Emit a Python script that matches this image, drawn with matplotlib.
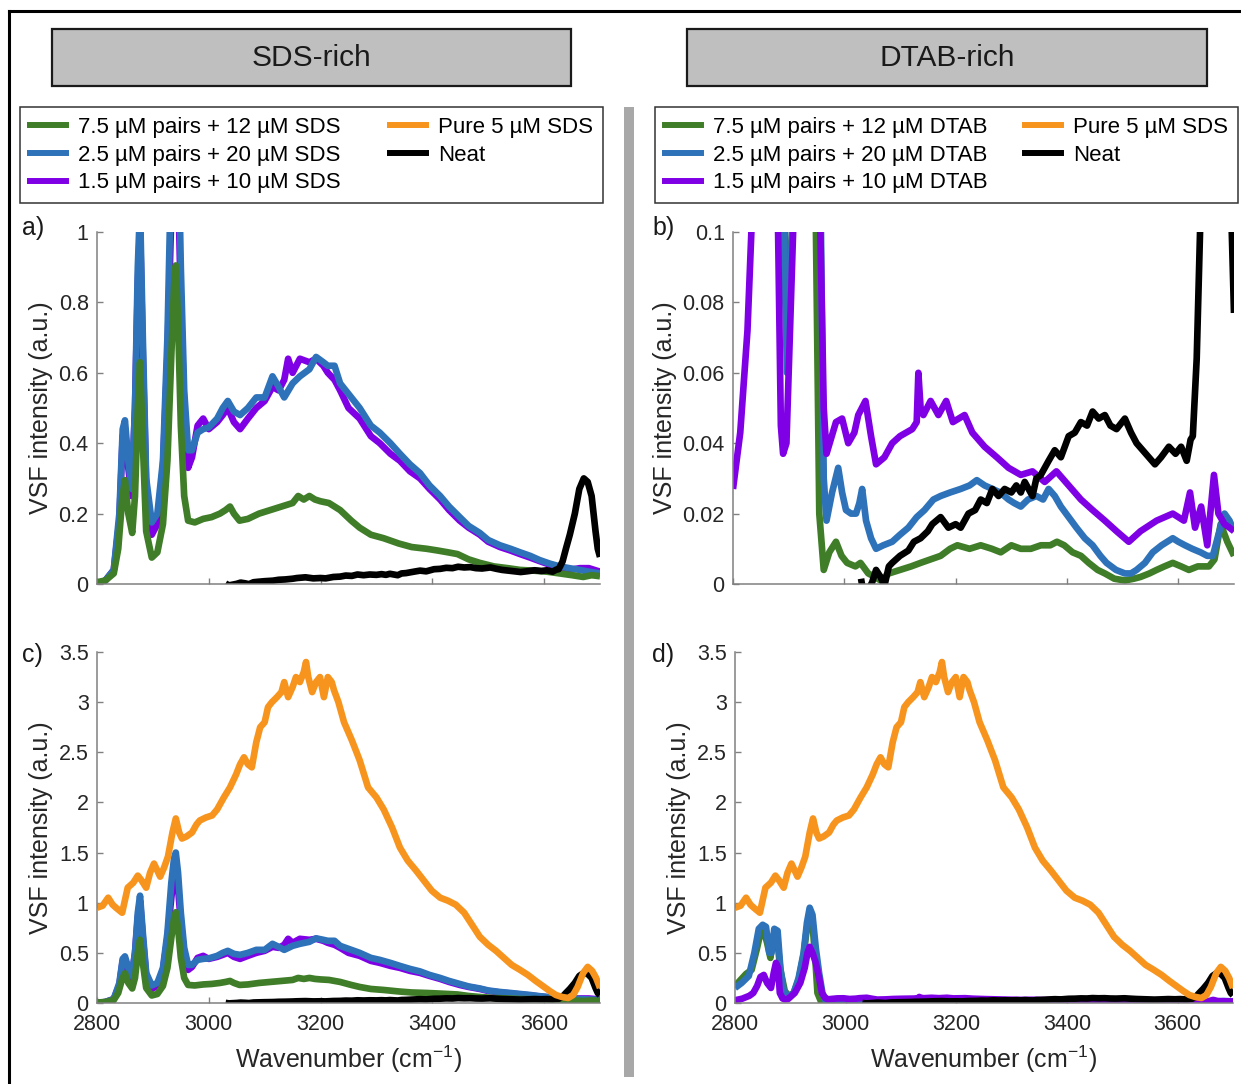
"""Espectros VSF: series ricas en SDS (izquierda) y en DTAB (derecha)."""

import matplotlib

matplotlib.use("Agg")
import matplotlib.pyplot as plt  # noqa: E402
from matplotlib.lines import Line2D  # noqa: E402
from matplotlib.patches import Rectangle  # noqa: E402
from matplotlib.ticker import FuncFormatter, MultipleLocator  # noqa: E402

plt.rcParams["font.family"] = ["Liberation Sans", "DejaVu Sans"]
plt.rcParams["mathtext.fontset"] = "custom"
plt.rcParams["mathtext.rm"] = "Liberation Sans"
plt.rcParams["mathtext.it"] = "Liberation Sans:italic"

ANCHO, ALTO = 1241, 1084
VERDE = "#3f7d28"
AZUL = "#2e72b9"
MORADO = "#8000e6"
NARANJA = "#f7941e"
NEGRO = "#000000"

# --- Serie ricas en SDS (paneles a y c) ---
sds_verde_w = [2800, 2815, 2830, 2838, 2845, 2850, 2856, 2863, 2868, 2873, 2877, 2882,
               2888, 2898, 2908, 2918, 2926, 2933, 2938, 2941, 2945, 2950, 2956, 2963,
               2975, 2990, 3005, 3020, 3030, 3038, 3045, 3055, 3070, 3090, 3110, 3130,
               3150, 3160, 3170, 3180, 3190, 3200, 3215, 3235, 3255, 3270, 3290, 3313,
               3340, 3363, 3390, 3410, 3428, 3445, 3465, 3485, 3510, 3535, 3557, 3580,
               3605, 3628, 3650, 3670, 3685, 3700]
sds_verde_y = [0.005, 0.01, 0.03, 0.1, 0.24, 0.295, 0.2, 0.145, 0.25, 0.5, 0.63, 0.4,
               0.15, 0.075, 0.09, 0.17, 0.35, 0.65, 0.85, 0.905, 0.75, 0.45, 0.25, 0.18,
               0.175, 0.185, 0.19, 0.2, 0.21, 0.22, 0.2, 0.18, 0.185, 0.2, 0.21, 0.22,
               0.23, 0.25, 0.24, 0.25, 0.24, 0.235, 0.23, 0.21, 0.18, 0.16, 0.14, 0.13,
               0.115, 0.105, 0.1, 0.095, 0.09, 0.085, 0.07, 0.06, 0.05, 0.045, 0.04, 0.038,
               0.035, 0.03, 0.025, 0.02, 0.025, 0.022]

sds_azul_w = [2800, 2815, 2830, 2840, 2846, 2850, 2856, 2862, 2868, 2873, 2877, 2882,
              2888, 2898, 2908, 2918, 2926, 2933, 2938, 2941, 2945, 2950, 2956, 2963,
              2970, 2980, 2990, 3000, 3015, 3025, 3034, 3045, 3056, 3070, 3085, 3100,
              3114, 3125, 3135, 3150, 3163, 3180, 3192, 3205, 3213, 3225, 3235, 3250,
              3270, 3290, 3306, 3325, 3342, 3360, 3378, 3395, 3414, 3430, 3449, 3465,
              3485, 3500, 3521, 3540, 3557, 3575, 3592, 3610, 3628, 3645, 3664, 3680, 3700]
sds_azul_y = [0.0, 0.01, 0.04, 0.2, 0.44, 0.465, 0.35, 0.27, 0.5, 0.9, 1.07, 0.7,
              0.3, 0.175, 0.2, 0.35, 0.7, 1.2, 1.45, 1.5, 1.3, 0.9, 0.55, 0.38,
              0.38, 0.43, 0.44, 0.445, 0.47, 0.5, 0.52, 0.49, 0.48, 0.5, 0.53, 0.53,
              0.59, 0.56, 0.53, 0.57, 0.59, 0.61, 0.645, 0.63, 0.62, 0.62, 0.57, 0.54,
              0.5, 0.45, 0.43, 0.4, 0.37, 0.34, 0.315, 0.28, 0.25, 0.22, 0.19, 0.165,
              0.145, 0.125, 0.11, 0.1, 0.09, 0.08, 0.068, 0.058, 0.05, 0.045, 0.04, 0.035, 0.03]

sds_morado_w = [2800, 2815, 2830, 2840, 2846, 2850, 2856, 2862, 2868, 2873, 2877, 2882,
                2888, 2898, 2908, 2918, 2926, 2933, 2938, 2941, 2945, 2950, 2956, 2963,
                2970, 2980, 2990, 3000, 3015, 3025, 3034, 3045, 3056, 3070, 3085, 3100,
                3114, 3125, 3135, 3142, 3150, 3163, 3180, 3192, 3205, 3213, 3225, 3235,
                3250, 3270, 3290, 3306, 3325, 3342, 3360, 3378, 3395, 3414, 3430, 3449,
                3465, 3485, 3500, 3521, 3540, 3557, 3575, 3592, 3610, 3628, 3645, 3664,
                3680, 3700]
sds_morado_y = [0.0, 0.01, 0.04, 0.18, 0.42, 0.44, 0.33, 0.25, 0.5, 0.85, 1.02, 0.65,
                0.28, 0.14, 0.17, 0.33, 0.65, 1.05, 1.28, 1.32, 1.15, 0.8, 0.5, 0.33,
                0.36, 0.45, 0.47, 0.44, 0.46, 0.48, 0.5, 0.46, 0.44, 0.47, 0.5, 0.52,
                0.56, 0.55, 0.58, 0.64, 0.6, 0.64, 0.63, 0.64, 0.62, 0.6, 0.58, 0.55,
                0.5, 0.47, 0.42, 0.4, 0.37, 0.35, 0.32, 0.3, 0.27, 0.24, 0.21, 0.18,
                0.16, 0.14, 0.12, 0.105, 0.095, 0.085, 0.075, 0.065, 0.055, 0.048, 0.04, 0.045,
                0.045, 0.035]

# --- Agua pura (Neat), comun a los cuatro paneles ---
neat_w = [3030, 3036, 3042, 3050, 3057, 3065, 3072, 3080, 3086, 3100, 3115, 3125,
          3137, 3150, 3158, 3173, 3187, 3200, 3209, 3223, 3235, 3245, 3256, 3266,
          3277, 3288, 3300, 3309, 3317, 3324, 3331, 3338, 3345, 3353, 3367, 3378,
          3389, 3403, 3414, 3425, 3436, 3446, 3457, 3468, 3478, 3489, 3504, 3515,
          3525, 3536, 3547, 3558, 3569, 3583, 3595, 3605, 3615, 3622, 3626, 3633,
          3639, 3646, 3655, 3663, 3671, 3678, 3685, 3692, 3696, 3700]
neat_y = [0.0015, -0.004, -0.002, 0.0005, 0.004, 0.002, -0.0005, 0.005, 0.006, 0.008, 0.0095, 0.012,
          0.013, 0.015, 0.017, 0.019, 0.016, 0.017, 0.016, 0.02, 0.021, 0.024, 0.023, 0.027,
          0.025, 0.027, 0.026, 0.028, 0.026, 0.029, 0.027, 0.025, 0.03, 0.031, 0.035, 0.038,
          0.036, 0.042, 0.043, 0.046, 0.045, 0.049, 0.047, 0.048, 0.045, 0.044, 0.047, 0.043,
          0.04, 0.038, 0.036, 0.034, 0.036, 0.039, 0.037, 0.039, 0.035, 0.041, 0.042, 0.064,
          0.1, 0.14, 0.2, 0.27, 0.3, 0.29, 0.25, 0.15, 0.1, 0.077]

# --- SDS puro 5 uM (paneles c y d) ---
puro_w = [2800, 2810, 2820, 2828, 2834, 2845, 2855, 2865, 2873, 2880, 2888, 2895,
          2902, 2913, 2920, 2927, 2935, 2941, 2947, 2952, 2960, 2970, 2978, 2984,
          2995, 3006, 3015, 3027, 3038, 3049, 3056, 3063, 3070, 3077, 3085, 3092,
          3100, 3106, 3113, 3122, 3130, 3135, 3142, 3150, 3156, 3163, 3170, 3174,
          3178, 3185, 3192, 3199, 3206, 3213, 3220, 3224, 3232, 3242, 3256, 3270,
          3285, 3300, 3313, 3328, 3342, 3356, 3371, 3385, 3399, 3414, 3428, 3442,
          3457, 3471, 3485, 3500, 3514, 3528, 3542, 3557, 3571, 3585, 3600, 3610,
          3621, 3632, 3643, 3652, 3660, 3670, 3678, 3686, 3693, 3700]
puro_y = [0.95, 0.97, 1.05, 0.98, 0.95, 0.9, 1.15, 1.2, 1.27, 1.22, 1.15, 1.3,
          1.39, 1.26, 1.35, 1.46, 1.7, 1.84, 1.7, 1.64, 1.66, 1.7, 1.78, 1.82,
          1.85, 1.87, 1.93, 2.05, 2.15, 2.28, 2.38, 2.45, 2.38, 2.35, 2.6, 2.75,
          2.8, 2.95, 3.0, 3.05, 3.1, 3.2, 3.05, 3.15, 3.25, 3.2, 3.3, 3.4,
          3.25, 3.1, 3.2, 3.25, 3.05, 3.25, 3.2, 3.12, 3.0, 2.8, 2.62, 2.42,
          2.15, 2.05, 1.93, 1.75, 1.55, 1.42, 1.32, 1.22, 1.12, 1.05, 1.02, 0.98,
          0.9, 0.78, 0.66, 0.58, 0.52, 0.45, 0.38, 0.33, 0.28, 0.22, 0.16, 0.12,
          0.08, 0.06, 0.05, 0.08, 0.16, 0.3, 0.36, 0.32, 0.25, 0.15]

# --- Serie ricas en DTAB (paneles b y d) ---
dtab_verde_w = [2800, 2810, 2820, 2830, 2840, 2846, 2852, 2858, 2864, 2870, 2876, 2882,
                2890, 2897, 2906, 2915, 2924, 2930, 2936, 2941, 2945, 2949, 2955, 2963,
                2973, 2985, 2995, 3005, 3020, 3029, 3043, 3055, 3065, 3080, 3100, 3120,
                3137, 3155, 3173, 3190, 3203, 3225, 3245, 3265, 3281, 3300, 3317, 3335,
                3353, 3370, 3382, 3395, 3410, 3425, 3439, 3455, 3468, 3485, 3504, 3520,
                3532, 3548, 3561, 3575, 3590, 3605, 3619, 3635, 3655, 3665, 3676, 3688, 3700]
dtab_verde_y = [0.17, 0.23, 0.29, 0.33, 0.55, 0.7, 0.72, 0.6, 0.45, 0.68, 0.65, 0.33,
                0.12, 0.07, 0.1, 0.23, 0.48, 0.75, 0.85, 0.72, 0.45, 0.1, 0.02, 0.004,
                0.009, 0.012, 0.008, 0.006, 0.005, 0.006, 0.003, 0.002, 0.001, 0.003, 0.004, 0.005,
                0.006, 0.007, 0.008, 0.01, 0.011, 0.01, 0.011, 0.01, 0.009, 0.011, 0.01, 0.01,
                0.011, 0.011, 0.012, 0.011, 0.009, 0.008, 0.006, 0.004, 0.003, 0.0015, 0.001, 0.0015,
                0.002, 0.003, 0.004, 0.005, 0.006, 0.005, 0.004, 0.005, 0.005, 0.007, 0.017, 0.012, 0.008]

dtab_azul_w = [2800, 2812, 2825, 2835, 2843, 2850, 2856, 2862, 2866, 2871, 2877, 2882,
               2888, 2897, 2906, 2915, 2924, 2930, 2935, 2940, 2946, 2952, 2958, 2963,
               2968, 2978, 2989, 2996, 3003, 3012, 3021, 3027, 3032, 3039, 3048, 3057,
               3070, 3086, 3100, 3115, 3130, 3144, 3160, 3173, 3190, 3209, 3225, 3238,
               3252, 3266, 3280, 3295, 3305, 3317, 3330, 3345, 3357, 3367, 3378, 3389,
               3403, 3417, 3432, 3446, 3460, 3471, 3488, 3504, 3515, 3525, 3540, 3554,
               3570, 3590, 3600, 3612, 3625, 3640, 3652, 3662, 3672, 3683, 3692, 3700]
dtab_azul_y = [0.15, 0.2, 0.27, 0.5, 0.74, 0.78, 0.76, 0.5, 0.5, 0.74, 0.72, 0.35,
               0.12, 0.06, 0.1, 0.25, 0.5, 0.8, 0.95, 0.88, 0.55, 0.3, 0.1, 0.03,
               0.018, 0.026, 0.033, 0.026, 0.021, 0.02, 0.02, 0.023, 0.027, 0.018, 0.013, 0.01,
               0.011, 0.012, 0.014, 0.016, 0.019, 0.021, 0.024, 0.025, 0.026, 0.027, 0.028, 0.0295,
               0.028, 0.027, 0.026, 0.024, 0.023, 0.022, 0.024, 0.025, 0.024, 0.027, 0.025, 0.022,
               0.019, 0.016, 0.013, 0.011, 0.008, 0.006, 0.004, 0.003, 0.003, 0.004, 0.006, 0.009,
               0.011, 0.013, 0.012, 0.011, 0.01, 0.009, 0.008, 0.008, 0.014, 0.02, 0.018, 0.015]

dtab_morado_w = [2800, 2813, 2826, 2833, 2840, 2846, 2852, 2858, 2865, 2870, 2874, 2878,
                 2881, 2886, 2890, 2896, 2902, 2908, 2918, 2926, 2931, 2935, 2940, 2946,
                 2952, 2957, 2963, 2968, 2985, 2996, 3007, 3018, 3025, 3038, 3048, 3057,
                 3072, 3086, 3100, 3122, 3130, 3133, 3137, 3142, 3155, 3169, 3183, 3195,
                 3216, 3230, 3252, 3274, 3295, 3317, 3338, 3360, 3381, 3403, 3425, 3446,
                 3468, 3489, 3511, 3532, 3561, 3590, 3610, 3621, 3630, 3641, 3652, 3664,
                 3672, 3683, 3692, 3700]
dtab_morado_y = [0.027, 0.043, 0.072, 0.1, 0.17, 0.26, 0.28, 0.2, 0.15, 0.3, 0.4, 0.35,
                 0.1, 0.045, 0.037, 0.04, 0.07, 0.1, 0.2, 0.35, 0.5, 0.56, 0.5, 0.4,
                 0.25, 0.1, 0.05, 0.037, 0.046, 0.047, 0.04, 0.043, 0.048, 0.052, 0.042, 0.034,
                 0.036, 0.04, 0.042, 0.044, 0.046, 0.06, 0.05, 0.048, 0.052, 0.048, 0.052, 0.046,
                 0.048, 0.043, 0.039, 0.036, 0.033, 0.031, 0.032, 0.029, 0.032, 0.028, 0.024, 0.021,
                 0.018, 0.015, 0.012, 0.015, 0.018, 0.02, 0.018, 0.026, 0.016, 0.022, 0.011, 0.031,
                 0.02, 0.017, 0.016, 0.015]

ETIQUETAS_SDS = ["7.5 µM pairs + 12 µM SDS", "2.5 µM pairs + 20 µM SDS",
                 "1.5 µM pairs + 10 µM SDS", "Pure 5 µM SDS", "Neat"]
ETIQUETAS_DTAB = ["7.5 µM pairs + 12 µM DTAB", "2.5 µM pairs + 20 µM DTAB",
                  "1.5 µM pairs + 10 µM DTAB", "Pure 5 µM SDS", "Neat"]
COLORES_LEYENDA = [VERDE, AZUL, MORADO, NARANJA, NEGRO]


def caja(izq, der, arriba, abajo):
    """Convierte un rectangulo en pixeles a coordenadas de figura."""
    return [izq / ANCHO, 1 - abajo / ALTO, (der - izq) / ANCHO, (abajo - arriba) / ALTO]


def estilo_ejes(ax, ymax, paso, con_etiquetas_x):
    ax.set_xlim(2800, 3700)
    ax.set_ylim(0, ymax)
    ax.xaxis.set_major_locator(MultipleLocator(200))
    ax.yaxis.set_major_locator(MultipleLocator(paso))
    ax.yaxis.set_major_formatter(FuncFormatter(lambda v, _: f"{v:g}"))
    for lado in ("top", "right"):
        ax.spines[lado].set_visible(False)
    for lado in ("left", "bottom"):
        ax.spines[lado].set_color("#808080")
        ax.spines[lado].set_linewidth(1.1)
    ax.tick_params(direction="in", length=4, width=1, color="#808080",
                   labelsize=15.5, labelcolor="#262626", pad=6)
    ax.tick_params(axis="x", labelbottom=con_etiquetas_x, pad=8)
    ax.set_ylabel("VSF intensity (a.u.)", fontsize=18, color="#262626", labelpad=4)
    if con_etiquetas_x:
        ax.set_xlabel("Wavenumber (cm$^{-1}$)", fontsize=18, color="#262626", labelpad=6)
    ax.patch.set_alpha(0)


def trazar(ax, w, y, color):
    ax.plot(w, y, color=color, lw=4.8, solid_joinstyle="round", solid_capstyle="butt")


fig = plt.figure(figsize=(ANCHO / 100, ALTO / 100), dpi=100)

# Marco exterior (solo borde izquierdo y superior visibles)
fig.add_artist(Line2D([9 / ANCHO, 9 / ANCHO], [0, 1 - 11 / ALTO], color="black", lw=2.2))
fig.add_artist(Line2D([9 / ANCHO, 1], [1 - 11 / ALTO, 1 - 11 / ALTO], color="black", lw=2.2))

# Separador gris central
fig.add_artist(Rectangle((624 / ANCHO, 1 - 1077 / ALTO), 10 / ANCHO, 970 / ALTO,
                         transform=fig.transFigure, facecolor="#a8a8a8", edgecolor="none"))

# Cajas de titulo
for (izq, der), titulo in zip([(52, 571), (687, 1207)], ["SDS-rich", "DTAB-rich"]):
    x0, y0, w, h = caja(izq, der, 29, 86)
    fig.add_artist(Rectangle((x0, y0), w, h, transform=fig.transFigure,
                             facecolor="#bfbfbf", edgecolor="#1a1a1a", lw=1.6))
    fig.text(x0 + w / 2, y0 + h / 2, titulo, ha="center", va="center",
             fontsize=21.5, color="#1a1a1a")

# Leyendas
manijas = [Line2D([], [], color=c, lw=4.3) for c in COLORES_LEYENDA]
for (izq, der), etiquetas in zip([(20, 603), (655, 1238)], [ETIQUETAS_SDS, ETIQUETAS_DTAB]):
    x0, y0, w, h = caja(izq, der, 107, 201)
    ley = fig.legend(manijas, etiquetas, ncol=2, loc="upper left",
                     bbox_to_anchor=(x0, y0, w, h), mode="expand",
                     fontsize=16, frameon=True, fancybox=False, borderaxespad=0,
                     handlelength=1.6, handletextpad=0.55, labelspacing=0.3,
                     borderpad=0.45, columnspacing=1.0)
    ley.get_frame().set_edgecolor("black")
    ley.get_frame().set_linewidth(1.1)

ax_a = fig.add_axes(caja(97, 600, 232, 584))
ax_b = fig.add_axes(caja(733, 1234, 232, 584))
ax_c = fig.add_axes(caja(97, 600, 652, 1003))
ax_d = fig.add_axes(caja(735, 1233, 652, 1003))

# a) SDS-rich, escala 0-1
trazar(ax_a, sds_morado_w, sds_morado_y, MORADO)
trazar(ax_a, sds_azul_w, sds_azul_y, AZUL)
trazar(ax_a, sds_verde_w, sds_verde_y, VERDE)
trazar(ax_a, neat_w, neat_y, NEGRO)
estilo_ejes(ax_a, 1, 0.2, False)

# b) DTAB-rich, escala 0-0.1
trazar(ax_b, dtab_verde_w, dtab_verde_y, VERDE)
trazar(ax_b, dtab_azul_w, dtab_azul_y, AZUL)
trazar(ax_b, dtab_morado_w, dtab_morado_y, MORADO)
trazar(ax_b, neat_w, neat_y, NEGRO)
estilo_ejes(ax_b, 0.1, 0.02, False)

# c) SDS-rich con SDS puro
trazar(ax_c, sds_morado_w, sds_morado_y, MORADO)
trazar(ax_c, sds_azul_w, sds_azul_y, AZUL)
trazar(ax_c, sds_verde_w, sds_verde_y, VERDE)
trazar(ax_c, neat_w, neat_y, NEGRO)
trazar(ax_c, puro_w, puro_y, NARANJA)
estilo_ejes(ax_c, 3.5, 0.5, True)

# d) DTAB-rich con SDS puro
trazar(ax_d, dtab_verde_w, dtab_verde_y, VERDE)
trazar(ax_d, dtab_azul_w, dtab_azul_y, AZUL)
trazar(ax_d, dtab_morado_w, dtab_morado_y, MORADO)
trazar(ax_d, neat_w, neat_y, NEGRO)
trazar(ax_d, puro_w, puro_y, NARANJA)
estilo_ejes(ax_d, 3.5, 0.5, True)

# Etiquetas de panel
for letra, px, py in [("a)", 22, 228), ("b)", 652, 228), ("c)", 22, 655), ("d)", 652, 655)]:
    fig.text(px / ANCHO, 1 - py / ALTO, letra, ha="left", va="center",
             fontsize=18, color="#1a1a1a")

fig.savefig("out.png", dpi=100)
